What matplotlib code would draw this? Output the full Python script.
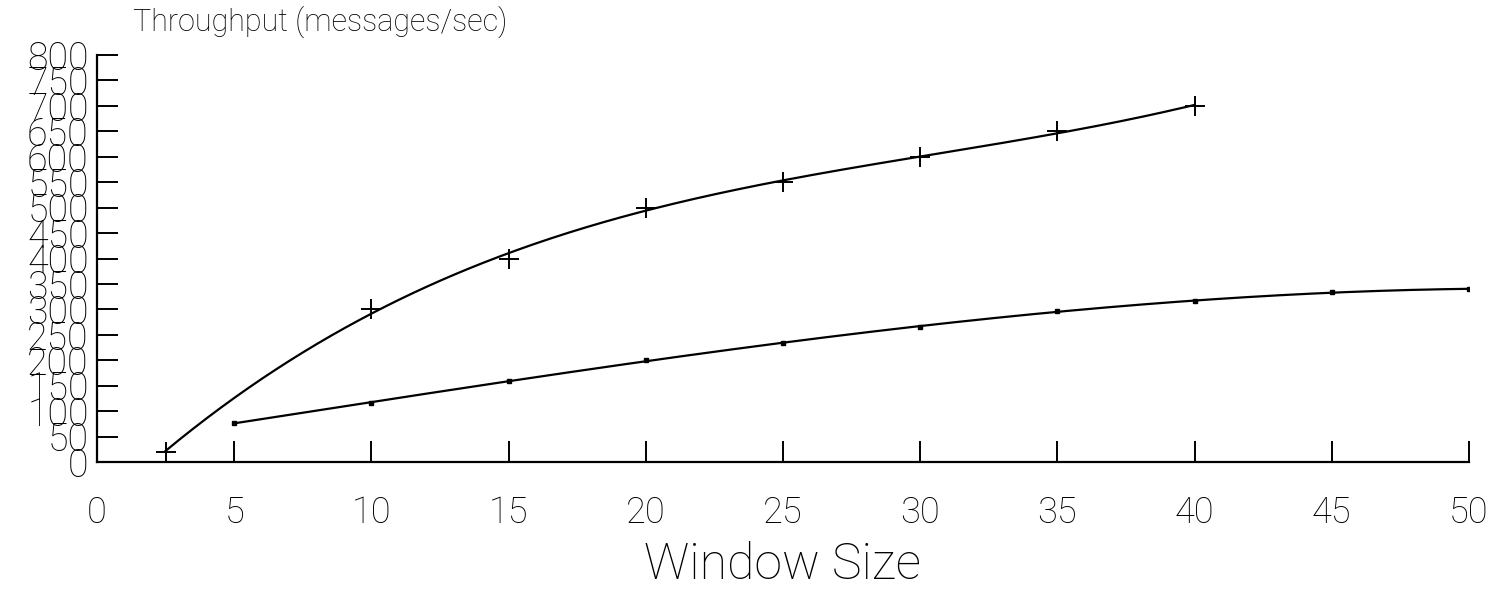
import numpy as np
import matplotlib
matplotlib.use("Agg")
import matplotlib.pyplot as plt

# Throughput vs. window size, two configurations
window_a = [2.5, 10, 15, 20, 25, 30, 35, 40]
throughput_a = [20, 300, 400, 500, 550, 600, 650, 700]

window_b = [5, 10, 15, 20, 25, 30, 35, 40, 45, 50]
throughput_b = [77, 115, 160, 200, 234, 265, 297, 316, 334, 340]

x_ticks = [0, 5, 10, 15, 20, 25, 30, 35, 40, 45, 50]
y_ticks = list(range(0, 801, 50))

plt.rcParams['font.family'] = ['Roboto', 'DejaVu Sans']
plt.rcParams['font.weight'] = 'light'

fig = plt.figure(figsize=(15.03, 5.92), dpi=100)
ax = fig.add_axes([97 / 1503, 1 - 462 / 592, (1469 - 97) / 1503, (462 - 55) / 592])


def smooth(xs, ys, deg=3):
    coef = np.polyfit(xs, ys, deg)
    xx = np.linspace(min(xs), max(xs), 300)
    return xx, np.polyval(coef, xx)


xa, ya = smooth(window_a, throughput_a)
xb, yb = smooth(window_b, throughput_b)

ax.plot(xa, ya, color='black', lw=1.6)
ax.plot(window_a, throughput_a, linestyle='none', marker='+', markersize=14,
        markeredgewidth=1.4, color='black')
ax.plot(xb, yb, color='black', lw=1.6)
ax.plot(window_b, throughput_b, linestyle='none', marker='s', markersize=3,
        color='black')

ax.set_xlim(0, 50)
ax.set_ylim(0, 800)
for side in ('top', 'right'):
    ax.spines[side].set_visible(False)
for side in ('left', 'bottom'):
    ax.spines[side].set_linewidth(1.6)

ax.set_xticks(x_ticks)
ax.set_yticks(y_ticks)
ax.set_xticklabels([str(v) for v in x_ticks], fontsize=26, color='black')
ax.set_yticklabels([str(v) for v in y_ticks], fontsize=27, color='black')
ax.tick_params(axis='both', direction='in', length=15, width=1.4)
ax.tick_params(axis='x', pad=24)
ax.tick_params(axis='y', pad=6)

fig.text(133 / 1503, 1 - 6 / 592, 'Throughput (messages/sec)', fontsize=22,
         color='black', ha='left', va='top')
fig.text(783 / 1503, 1 - 565 / 592, 'Window Size', fontsize=36,
         color='black', ha='center', va='center')

fig.savefig('out.png', dpi=100, facecolor='white')
